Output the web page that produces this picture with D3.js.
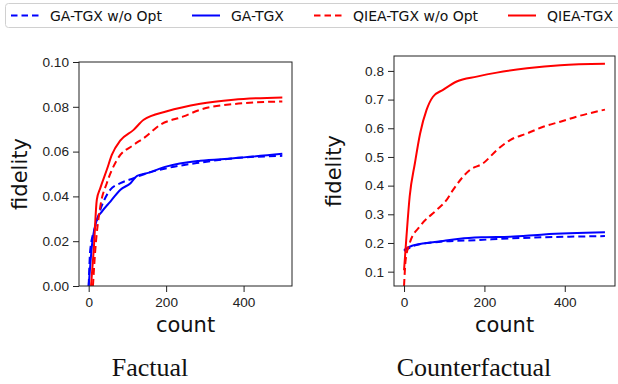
<!DOCTYPE html>
<html>
<head>
<meta charset="utf-8">
<script src="https://cdn.jsdelivr.net/npm/d3@7"></script>
<style>
  body { margin: 0; background: #fff; }
  svg { display: block; font-family: "DejaVu Sans", sans-serif; }
  .tick text { font-size: 13.6px; fill: #222; }
  .domain, .tick line { stroke: #222; }
</style>
</head>
<body>
<div id="chart"></div>
<script>
// legend / series names
const seriesNames = ["GA-TGX w/o Opt", "GA-TGX", "QIEA-TGX w/o Opt", "QIEA-TGX"];
const seriesColors = ["#0000ff", "#0000ff", "#ff0000", "#ff0000"];
const seriesDashed = [true, false, true, false];

// Factual panel: [count, fidelity]
const factGaWo = [[0, 0], [4, 0.016], [17, 0.0265], [30, 0.034], [56, 0.043], [82, 0.0459], [116, 0.0481], [151, 0.0504], [202, 0.0526], [288, 0.0551], [374, 0.057], [500, 0.0581]];
const factGa = [[0, 0], [9, 0.019], [21, 0.0295], [34, 0.0332], [56, 0.0377], [82, 0.043], [108, 0.0459], [125, 0.0492], [151, 0.0504], [202, 0.0534], [288, 0.0559], [374, 0.057], [500, 0.059]];
const factQieaWo = [[11, 0], [17, 0.016], [30, 0.0355], [47, 0.046], [73, 0.0563], [116, 0.063], [142, 0.066], [185, 0.072], [245, 0.0757], [288, 0.0787], [374, 0.0812], [500, 0.0824]];
const factQiea = [[6, 0], [13, 0.016], [21, 0.0385], [30, 0.0437], [47, 0.052], [60, 0.0586], [82, 0.065], [116, 0.0697], [142, 0.0742], [202, 0.078], [288, 0.0814], [374, 0.0832], [500, 0.0842]];

// Counterfactual panel: [count, fidelity]
const cfGaWo = [[0, 0.172], [31, 0.193], [97, 0.205], [181, 0.21], [264, 0.216], [348, 0.22], [500, 0.224]];
const cfGa = [[0, 0.175], [14, 0.187], [56, 0.2], [97, 0.207], [139, 0.215], [197, 0.22], [264, 0.222], [348, 0.23], [500, 0.237]];
const cfQieaWo = [[0, 0.05], [4, 0.141], [14, 0.199], [39, 0.257], [81, 0.315], [106, 0.35], [122, 0.385], [164, 0.455], [197, 0.478], [231, 0.524], [264, 0.559], [306, 0.582], [348, 0.606], [389, 0.623], [431, 0.641], [500, 0.665]];
const cfQiea = [[0, 0.105], [6, 0.222], [14, 0.362], [27, 0.478], [40, 0.582], [56, 0.664], [72, 0.71], [97, 0.734], [131, 0.763], [181, 0.78], [231, 0.794], [306, 0.809], [389, 0.82], [500, 0.825]];

const xTicks = [0, 200, 400];
const factYTicks = [0, 0.02, 0.04, 0.06, 0.08, 0.10];
const cfYTicks = [0.1, 0.2, 0.3, 0.4, 0.5, 0.6, 0.7, 0.8];

const panels = [
  { title: "Factual", series: [factGaWo, factGa, factQieaWo, factQiea],
    box: { left: 79, right: 292, top: 62, bottom: 286 },
    yDomain: [0, 0.1], yTicks: factYTicks, yFmt: d3.format(".2f"), yLabelX: 20 },
  { title: "Counterfactual", series: [cfGaWo, cfGa, cfQieaWo, cfQiea],
    box: { left: 394, right: 615, top: 56, bottom: 286 },
    yDomain: [0.05, 0.852], yTicks: cfYTicks, yFmt: d3.format(".1f"), yLabelX: 334 },
];

const width = 618, height = 384;
const svg = d3.select("#chart").append("svg").attr("width", width).attr("height", height);

panels.forEach((p, i) => {
  const b = p.box;
  const x = d3.scaleLinear().domain([-25, 525]).range([b.left, b.right]);
  const y = d3.scaleLinear().domain(p.yDomain).range([b.bottom, b.top]);
  const g = svg.append("g");

  const clipId = "clip" + i;
  g.append("clipPath").attr("id", clipId)
    .append("rect")
    .attr("x", b.left).attr("y", b.top)
    .attr("width", b.right - b.left).attr("height", b.bottom - b.top);

  const line = d3.line()
    .x((d) => x(d[0]))
    .y((d) => y(d[1]))
    .curve(d3.curveMonotoneX);

  p.series.forEach((s, k) => {
    g.append("path")
      .datum(s)
      .attr("clip-path", `url(#${clipId})`)
      .attr("fill", "none")
      .attr("stroke", seriesColors[k])
      .attr("stroke-width", 2)
      .attr("stroke-dasharray", seriesDashed[k] ? "7,4" : null)
      .attr("d", line);
  });

  // frame
  g.append("rect")
    .attr("x", b.left).attr("y", b.top)
    .attr("width", b.right - b.left).attr("height", b.bottom - b.top)
    .attr("fill", "none").attr("stroke", "#222").attr("stroke-width", 1);

  g.append("g")
    .attr("transform", `translate(0,${b.bottom})`)
    .call(d3.axisBottom(x).tickValues(xTicks).tickSize(6).tickPadding(5).tickFormat(d3.format("d")))
    .call((a) => a.select(".domain").remove());

  g.append("g")
    .attr("transform", `translate(${b.left},0)`)
    .call(d3.axisLeft(y).tickValues(p.yTicks).tickSize(6).tickPadding(4).tickFormat(p.yFmt))
    .call((a) => a.select(".domain").remove());

  // axis labels
  g.append("text")
    .attr("x", (b.left + b.right) / 2).attr("y", 332)
    .attr("text-anchor", "middle")
    .style("font-size", "21px").attr("fill", "#111")
    .text("count");

  g.append("text")
    .attr("transform", `translate(${p.yLabelX + 7},${(b.top + b.bottom) / 2}) rotate(-90)`)
    .attr("text-anchor", "middle")
    .style("font-size", "21px").attr("fill", "#111")
    .text("fidelity");

  // subtitle
  g.append("text")
    .attr("x", i === 0 ? 150 : 474).attr("y", 376)
    .attr("text-anchor", "middle")
    .style("font-family", "'Liberation Serif', 'Times New Roman', serif")
    .style("font-size", "26px").attr("fill", "#111")
    .text(p.title);
});

// legend
const legend = svg.append("g");
legend.append("rect")
  .attr("x", 5.5).attr("y", 3.5).attr("width", 640).attr("height", 24)
  .attr("rx", 3).attr("fill", "#fff").attr("stroke", "#d0d0d0");

const legendX = [11, 192, 314, 508];
seriesNames.forEach((name, k) => {
  legend.append("line")
    .attr("x1", legendX[k]).attr("x2", legendX[k] + 28)
    .attr("y1", 15.5).attr("y2", 15.5)
    .attr("stroke", seriesColors[k]).attr("stroke-width", 2)
    .attr("stroke-dasharray", seriesDashed[k] ? "6.5,4" : null);
  legend.append("text")
    .attr("x", legendX[k] + 39).attr("y", 20.5)
    .style("font-size", "14px").attr("fill", "#111")
    .text(name);
});
</script>
</body>
</html>
